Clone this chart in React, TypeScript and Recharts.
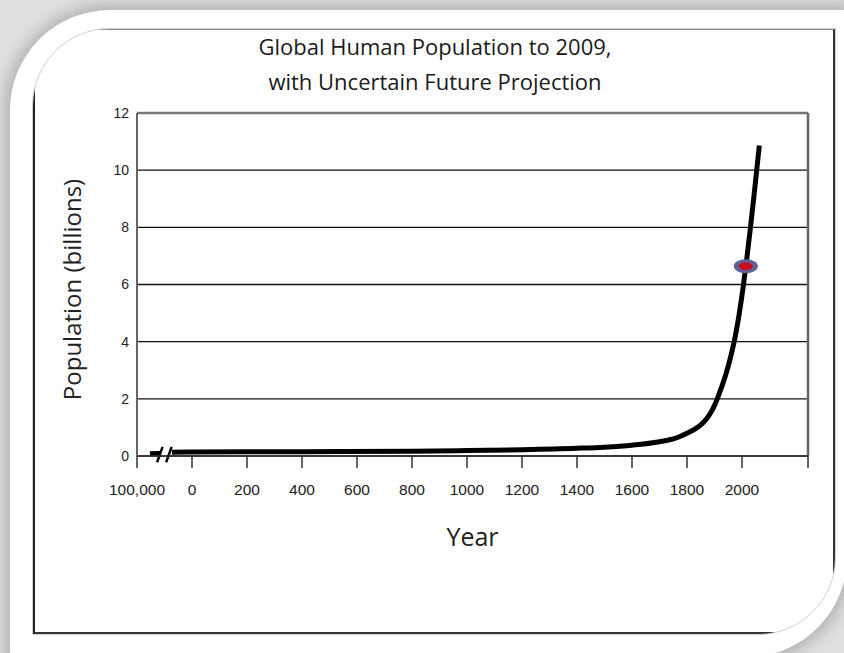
import { LineChart, Line, XAxis, YAxis, CartesianGrid, ReferenceLine } from 'recharts'

// years are on a linear axis; -200 stands in for the "100,000" (BC) break
const mainYears = [-73, 0, 400, 800, 1000, 1200, 1400, 1500, 1600, 1700, 1750, 1800, 1830, 1850, 1865, 1880, 1890, 1900, 1910, 1925, 1940, 1950, 1960, 1973, 1982, 1990, 1998, 2006, 2018, 2031, 2043, 2053, 2063]
const mainPop = [0.13, 0.14, 0.15, 0.17, 0.19, 0.22, 0.27, 0.31, 0.38, 0.5, 0.6, 0.8, 0.95, 1.09, 1.23, 1.42, 1.58, 1.77, 2.0, 2.39, 2.82, 3.15, 3.52, 4.07, 4.52, 4.98, 5.49, 6.04, 6.95, 8.01, 9.05, 9.95, 10.86]

const preYears = [-153, -116]
const prePop = [0.08, 0.09]

const markerYears = [2014]
const markerPop = [6.64]

const xTicks = [-200, 0, 200, 400, 600, 800, 1000, 1200, 1400, 1600, 1800, 2000, 2240]
const xTickLabels = ['100,000', '0', '200', '400', '600', '800', '1000', '1200', '1400', '1600', '1800', '2000', '']
const yTicks = [0, 2, 4, 6, 8, 10, 12]

const mainData = mainYears.map((year, i) => ({ year, pop: mainPop[i] }))
const preData = preYears.map((year, i) => ({ year, pop: prePop[i] }))
const markerData = markerYears.map((year, i) => ({ year, pop: markerPop[i] }))

const TICK = { fontFamily: '"Liberation Sans", Arial, sans-serif', fontSize: 15.5, fill: '#222' }

const MarkerDot = (props: any) => {
  const { cx, cy } = props
  if (cx == null || cy == null) return null
  return (
    <g>
      <ellipse cx={cx} cy={cy} rx={12} ry={7} fill="#5d6196" />
      <ellipse cx={cx} cy={cy} rx={7} ry={4} fill="#c4101f" />
    </g>
  )
}

export default function App() {
  return (
    <div style={{ position: 'absolute', left: 0, top: 0, width: 844, height: 653, overflow: 'hidden', background: '#e0e0e0' }}>
      {/* rounded white card */}
      <div style={{
        position: 'absolute', left: 10, top: 10, width: 837, height: 647,
        background: '#fff', borderRadius: '100px 0 100px 0',
        boxShadow: '0 0 16px 5px rgba(0,0,0,0.22)',
      }} />
      {/* clipped chart box */}
      <div style={{
        position: 'absolute', left: 32, top: 28, width: 804, height: 607,
        borderRadius: '78px 0 78px 0', overflow: 'hidden',
        border: '1px solid #d0d0d0', boxSizing: 'border-box',
      }}>
        <div style={{
          position: 'absolute', inset: 0,
          borderTop: '1.5px solid #888', borderLeft: '2px solid #222',
          borderRight: '2px solid #333', borderBottom: '2.5px solid #333',
        }} />
      </div>
      <div style={{
        position: 'absolute', left: 185, width: 500, top: 29, textAlign: 'center',
        fontFamily: '"Open Sans", sans-serif', fontSize: 22, lineHeight: '35px', color: '#1a1a1a',
      }}>
        Global Human Population to 2009,<br />with Uncertain Future Projection
      </div>
      <div style={{ position: 'absolute', left: 0, top: 0 }}>
        <LineChart width={844} height={653} margin={{ top: 113, right: 36, left: 0, bottom: 0 }}>
          <CartesianGrid vertical={false} stroke="#111" strokeWidth={1.4} />
          <XAxis
            type="number"
            dataKey="year"
            domain={[-200, 2240]}
            ticks={xTicks}
            tickFormatter={(v: number) => xTickLabels[xTicks.indexOf(v)] ?? String(v)}
            tick={TICK}
            tickSize={12}
            tickMargin={16}
            height={197}
            axisLine={{ stroke: '#333', strokeWidth: 1.5 }}
            tickLine={{ stroke: '#333', strokeWidth: 1.5 }}
            label={{ value: 'Year', position: 'center', dy: -17, style: { fontFamily: '"Open Sans", sans-serif', fontSize: 25, fill: '#222' } }}
          />
          <YAxis
            type="number"
            domain={[0, 12]}
            ticks={yTicks}
            tick={{ ...TICK, fontSize: 14 }}
            tickLine={false}
            tickSize={0}
            tickMargin={8}
            width={137}
            axisLine={{ stroke: '#666', strokeWidth: 2 }}
            label={{ value: 'Population (billions)', angle: -90, position: 'center', dx: 4, dy: 5, style: { fontFamily: '"Open Sans", sans-serif', fontSize: 24, fill: '#222' } }}
          />
          <ReferenceLine y={12} stroke="#777" strokeWidth={2.5} />
          <ReferenceLine x={2240} stroke="#666" strokeWidth={2.5} />
          <Line data={preData} dataKey="pop" type="linear" stroke="#000" strokeWidth={5} dot={false} isAnimationActive={false} />
          <Line data={mainData} dataKey="pop" type="monotone" stroke="#000" strokeWidth={5} dot={false} isAnimationActive={false} />
          <ReferenceLine segment={[{ x: -127, y: -0.22 }, { x: -107, y: 0.32 }]} stroke="#000" strokeWidth={2.5} ifOverflow="visible" />
          <ReferenceLine segment={[{ x: -94, y: -0.22 }, { x: -74, y: 0.32 }]} stroke="#000" strokeWidth={2.5} ifOverflow="visible" />
          <Line data={markerData} dataKey="pop" stroke="none" dot={<MarkerDot />} activeDot={false} isAnimationActive={false} />
        </LineChart>
      </div>
    </div>
  )
}
